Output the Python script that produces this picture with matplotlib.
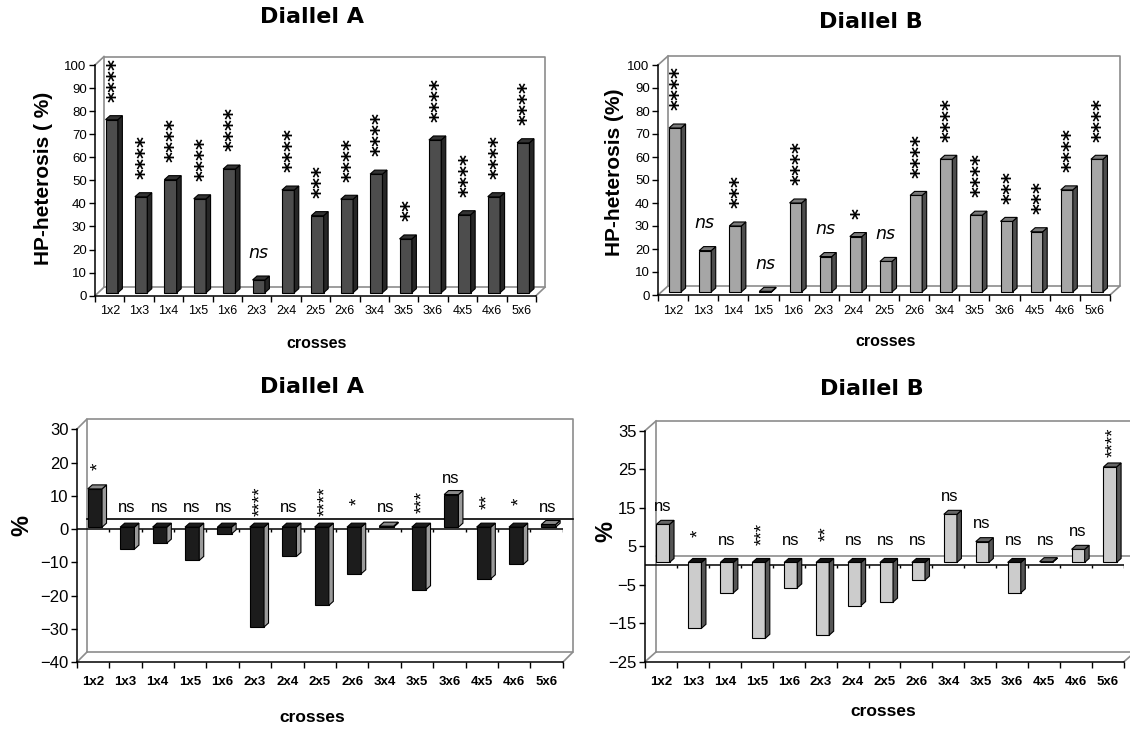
import numpy as np
import matplotlib
matplotlib.use('Agg')
import matplotlib.pyplot as plt
from matplotlib.patches import Polygon

plt.rcParams['font.family'] = ['Liberation Sans', 'DejaVu Sans']

crosses = ['1x2', '1x3', '1x4', '1x5', '1x6', '2x3', '2x4', '2x5',
           '2x6', '3x4', '3x5', '3x6', '4x5', '4x6', '5x6']

# HP-heterosis (%), upper panels
hp_a = [75, 41.6, 49, 40.7, 53.6, 5.5, 44.5, 33.4, 40.5, 51.4, 23.3, 66.2, 33.8, 41.6, 65]
hp_b = [71.3, 18, 28.7, 0.3, 38.7, 15.4, 24.1, 13.3, 42, 57.7, 33.4, 30.7, 26.2, 44.4, 57.7]
sig_hp_a = ['****', '****', '****', '****', '****', 'ns', '****', '***',
            '****', '****', '**', '****', '****', '****', '****']
sig_hp_b = ['****', 'ns', '***', 'ns', '****', 'ns', '*', 'ns',
            '****', '****', '****', '***', '***', '****', '****']

# lower panels (%)
pct_a = [11.5, -6.6, -4.8, -10.0, -2.0, -30.0, -8.8, -23.5, -14.0, 0.3, -18.8, 9.8, -15.5, -11.2, 0.8]
pct_b = [9.9, -17.1, -7.9, -19.7, -6.6, -18.9, -11.2, -10.3, -4.6, 12.5, 5.4, -7.9, 0.2, 3.4, 24.8]
sig_pct_a = ['*', 'ns', 'ns', 'ns', 'ns', '****', 'ns', '****',
             '*', 'ns', '***', 'ns', '**', '*', 'ns']
sig_pct_b = ['ns', '*', 'ns', '***', 'ns', '**', 'ns', 'ns',
             'ns', 'ns', 'ns', 'ns', 'ns', 'ns', '****']

W, H = 1130, 729
fig = plt.figure(figsize=(W / 100, H / 100), dpi=100)


def px_rect(x0, y_top, x1, y_bot):
    return [x0 / W, 1 - y_bot / H, (x1 - x0) / W, (y_bot - y_top) / H]


def px_scale(ax):
    x0, x1 = ax.get_xlim()
    y0, y1 = ax.get_ylim()
    return (x1 - x0) / ax.bbox.width, (y1 - y0) / ax.bbox.height


def setup_axes(ax, ylim, yticks, bold, ysize, xsize):
    ax.set_xlim(-0.5, len(crosses) - 0.5)
    ax.set_ylim(*ylim)
    ax.set_yticks(yticks)
    for s in ['top', 'right']:
        ax.spines[s].set_visible(False)
    for s in ['left', 'bottom']:
        ax.spines[s].set_linewidth(1.1)
        ax.spines[s].set_zorder(5)
    ax.set_xticks(np.arange(-0.5, len(crosses), 1))
    ax.set_xticklabels([])
    ax.set_xticks(np.arange(len(crosses)), labels=crosses, minor=True)
    weight = 'bold' if bold else 'normal'
    ax.tick_params(axis='x', which='major', length=4, width=1, direction='out')
    ax.tick_params(axis='x', which='minor', length=0, pad=7 if not bold else 10,
                   labelsize=xsize)
    for t in ax.get_xticklabels(minor=True):
        t.set_fontweight(weight)
    ax.tick_params(axis='y', length=4, width=1, pad=2, labelsize=ysize)
    ax.patch.set_alpha(0)


def draw_wall(ax, wall):
    sx, sy = px_scale(ax)
    wx, wy = wall[0] * sx, wall[1] * sy
    x0, x1 = ax.get_xlim()
    y0, y1 = ax.get_ylim()
    kw = dict(color='#8c8c8c', lw=1.2, clip_on=False, zorder=1)
    ax.plot([x0 + wx, x0 + wx, x1 + wx, x1 + wx, x0 + wx],
            [y0 + wy, y1 + wy, y1 + wy, y0 + wy, y0 + wy], **kw)
    ax.plot([x0, x0 + wx], [y1, y1 + wy], **kw)
    ax.plot([x0, x0 + wx], [y0, y0 + wy], **kw)
    ax.plot([x1, x1 + wx], [y0, y0 + wy], **kw)


def draw_zero_plane(ax, wall, back_color):
    sx, sy = px_scale(ax)
    wx, wy = wall[0] * sx, wall[1] * sy
    x0, x1 = ax.get_xlim()
    ax.plot([x0 + wx, x1 + wx], [wy, wy], color=back_color, lw=1.2,
            clip_on=False, zorder=1)
    ax.axhline(0, color='black', lw=1.1, zorder=2)
    ax.vlines(np.arange(0.5, len(crosses), 1), -3 * sy, 0, color='black',
              lw=1, zorder=2)


def draw_bars(ax, vals, front, side, top, lift, width, neg_top=None):
    sx, sy = px_scale(ax)
    x = np.arange(len(vals))
    ox, oy = 2 * sx, lift * sy
    dx, dy = 4.5 * sx, 4 * sy
    bars = ax.bar(x + ox, vals, width=width, bottom=oy, color=front,
                  edgecolor='black', lw=0.8, zorder=3, clip_on=False)
    for rect, v in zip(bars, vals):
        xl = rect.get_x()
        xr = xl + rect.get_width()
        lo, hi = oy + min(v, 0), oy + max(v, 0)
        ax.add_patch(Polygon([(xr, lo), (xr, hi), (xr + dx, hi + dy), (xr + dx, lo + dy)],
                             closed=True, fc=side, ec='black', lw=0.8, zorder=3,
                             clip_on=False))
        tc = neg_top if (neg_top is not None and v <= 0) else top
        ax.add_patch(Polygon([(xl, hi), (xr, hi), (xr + dx, hi + dy), (xl + dx, hi + dy)],
                             closed=True, fc=tc, ec='black', lw=0.8, zorder=3,
                             clip_on=False))


def label_top(ax, vals, sig):
    for i, (v, s) in enumerate(zip(vals, sig)):
        if s == 'ns':
            ax.text(i + 0.05, v + 11, s, ha='center', va='baseline',
                    fontsize=12.5, style='italic', family='DejaVu Sans', zorder=6)
        else:
            ax.text(i + 0.22, v + 9, s, ha='center', va='bottom', rotation=90,
                    fontsize=15, fontweight='bold', family='DejaVu Sans',
                    zorder=6, clip_on=False)


def label_bottom(ax, vals, sig):
    for i, (v, s) in enumerate(zip(vals, sig)):
        base = max(v, 1)
        if s == 'ns':
            ax.text(i + 0.05, base + 4.2, s, ha='center', va='baseline',
                    fontsize=12, zorder=6)
        else:
            ax.text(i + 0.18, base + 7.3, s, ha='center', va='center', rotation=90,
                    fontsize=13.5, zorder=6)


def fig_text(x, y, s, **kw):
    fig.text(x / W, 1 - y / H, s, ha='center', va='center', **kw)


title_kw = dict(fontsize=16, fontweight='bold', family='DejaVu Sans')

# ---- top left: Diallel A, HP-heterosis
ax1 = fig.add_axes(px_rect(95, 65, 536, 295.7))
setup_axes(ax1, (0, 100), np.arange(0, 101, 10), False, 9.5, 9)
draw_wall(ax1, (9, 8.5))
draw_bars(ax1, hp_a, '#4d4d4d', '#262626', '#333333', 3, 0.42)
label_top(ax1, hp_a, sig_hp_a)
fig_text(312, 17, 'Diallel A', **title_kw)
fig_text(44, 178, 'HP-heterosis ( %)', rotation=90, fontsize=15, fontweight='bold')
fig_text(317, 343, 'crosses', fontsize=11.5, fontweight='bold')

# ---- top right: Diallel B, HP-heterosis
ax2 = fig.add_axes(px_rect(658, 65, 1110, 295))
setup_axes(ax2, (0, 100), np.arange(0, 101, 10), False, 9.5, 9)
draw_wall(ax2, (10, 9))
draw_bars(ax2, hp_b, '#a6a6a6', '#4d4d4d', '#7a7a7a', 3, 0.4)
label_top(ax2, hp_b, sig_hp_b)
fig_text(871, 22, 'Diallel B', **title_kw)
fig_text(614, 172, 'HP-heterosis (%)', rotation=90, fontsize=15, fontweight='bold')
fig_text(886, 342, 'crosses', fontsize=11.5, fontweight='bold')

# ---- bottom left: Diallel A
ax3 = fig.add_axes(px_rect(76.7, 429.3, 562.7, 662.3))
setup_axes(ax3, (-40, 30), np.arange(-40, 31, 10), True, 12, 9.5)
draw_wall(ax3, (10, 10))
draw_zero_plane(ax3, (10, 10), 'black')
draw_bars(ax3, pct_a, '#1c1c1c', '#9a9a9a', '#8a8a8a', 2, 0.44, neg_top='#1c1c1c')
label_bottom(ax3, pct_a, sig_pct_a)
fig_text(312, 387, 'Diallel A', **title_kw)
fig_text(22, 526, '%', rotation=90, fontsize=17, fontweight='bold')
fig_text(312, 718, 'crosses', fontsize=12.5, fontweight='bold')

# ---- bottom right: Diallel B
ax4 = fig.add_axes(px_rect(645, 430.7, 1124, 661.7))
setup_axes(ax4, (-25, 35), np.arange(-25, 36, 10), True, 12, 9.5)
draw_wall(ax4, (11, 9.7))
draw_zero_plane(ax4, (11, 9.7), '#8c8c8c')
draw_bars(ax4, pct_b, '#cccccc', '#555555', '#666666', 3, 0.41, neg_top='#111111')
label_bottom(ax4, pct_b, sig_pct_b)
fig_text(872, 389, 'Diallel B', **title_kw)
fig_text(606, 531, '%', rotation=90, fontsize=17, fontweight='bold')
fig_text(883, 711, 'crosses', fontsize=12.5, fontweight='bold')

fig.savefig('out.png', dpi=100)
